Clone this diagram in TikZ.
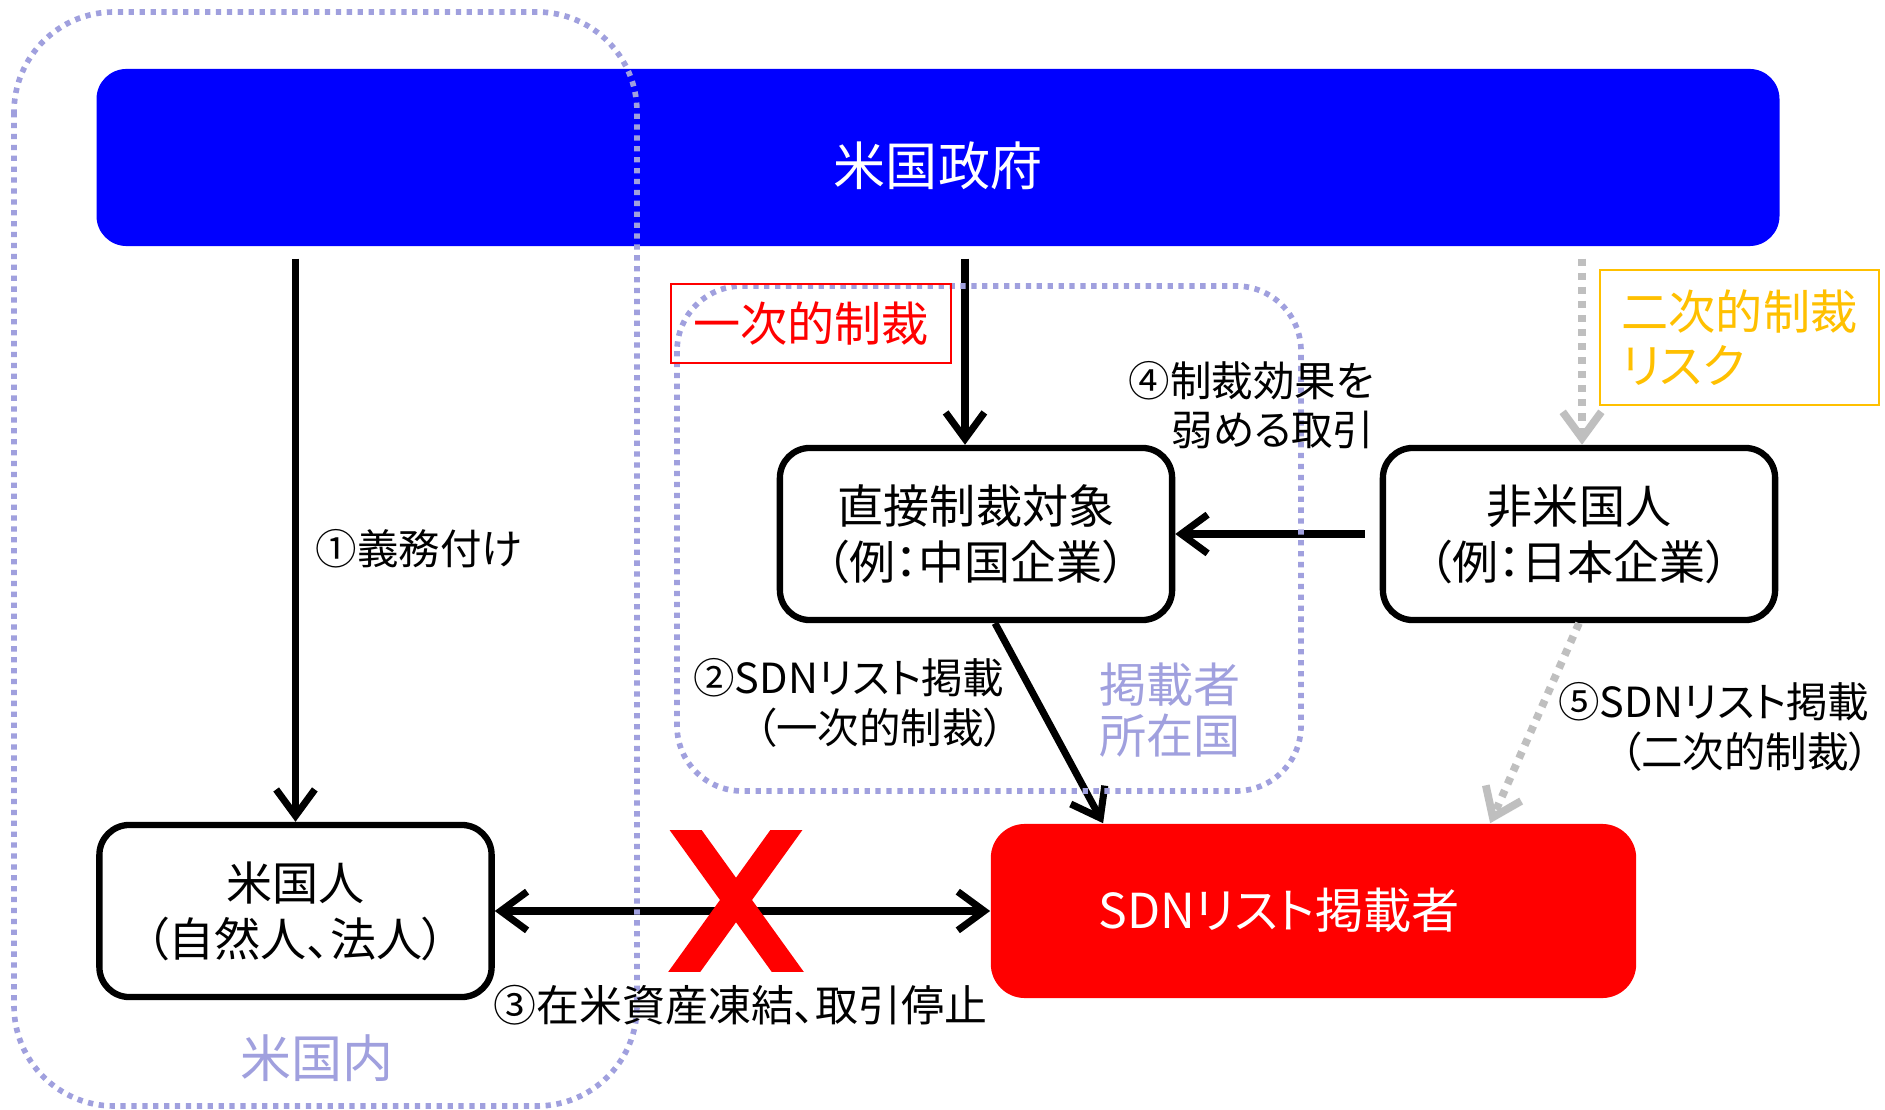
\documentclass[tikz,border=0pt]{standalone}
\usepackage{fontspec}
\setmainfont{Noto Sans CJK JP}[RawFeature=+palt]
\usetikzlibrary{arrows.meta,calc}
\definecolor{dotc}{RGB}{160,160,222}
\definecolor{graya}{RGB}{191,191,191}
\definecolor{orangea}{RGB}{255,192,0}
\newcommand\fs[2]{\fontsize{#1pt}{#2pt}\selectfont}
\begin{document}
\begin{tikzpicture}[x=0.01cm,y=-0.01cm,
  sbox/.style={draw=black, line width=1.8pt, fill=white, rounded corners=0.3cm, minimum width=3.92cm, minimum height=1.72cm, align=center, font=\fs{13.1}{15.9}, inner sep=0pt},
  arr/.style={line width=2pt, -{Straight Barb[length=7.5pt,width=11pt]}},
  garr/.style={draw=graya, line width=2.2pt, dash pattern=on 2pt off 2pt, -{Straight Barb[length=7.5pt,width=11pt]}},
  region/.style={draw=dotc, line width=1.6pt, dash pattern=on 1.5pt off 1.6pt},
  lbl/.style={font=\fs{11.8}{14}, align=right, inner sep=0pt}
]
\useasboundingbox (0,0) rectangle (1885,1110);
\fill[white] (0,0) rectangle (1885,1110);

% government
\node[fill=blue, rounded corners=0.3cm, minimum width=16.82cm, minimum height=1.77cm] (gov) at (938,157.5) {};
\node[text=white, font=\fs{14.8}{17}] (govt) at (938,166) {米国政府};

% boxes
\node[sbox] (direct) at (976,534) {直接制裁対象\\（例：中国企業）};
\node[sbox] (nonus) at (1579,534) {非米国人\\（例：日本企業）};
\node[sbox] (usp) at (295.5,911) {米国人\\（自然人、法人）};
\node[fill=red, rounded corners=0.34cm, minimum width=6.45cm, minimum height=1.74cm] (sdn) at (1313.5,911) {};
\node[text=white, font=\fs{13.7}{16}] (sdnt) at (1279,910) {SDNリスト掲載者};

% arrows
\draw[arr] ($(usp.north |- gov.south)+(0,12)$) -- (usp.north);
\draw[arr] ($(direct.north |- gov.south)+(-11,12)$) -- ($(direct.north)+(-11,0)$);
\draw[garr] ($(nonus.north |- gov.south)+(3,12)$) -- ($(nonus.north)+(3,0)$);
\draw[arr] ($(nonus.west)+(-15,0)$) -- (direct.east);
\draw[arr] ($(direct.south)+(19,0)$) -- ($(sdn.north west)+(113,0)$);
\draw[garr] (nonus.south) -- ($(sdn.north west)+(500,0)$);
\draw[line width=2pt, {Straight Barb[length=7.5pt,width=11pt]}-{Straight Barb[length=7.5pt,width=11pt]}] (usp.east) -- (sdn.west);

% red cross
\begin{scope}
\clip (600,830) rectangle (880,971);
\draw[red, line width=0.26cm] (678.4,820) -- (793.6,980) (793.6,820) -- (678.4,980);
\end{scope}

% regions
\draw[region, rounded corners=1cm] (14,12) rectangle (637,1106);
\draw[region, rounded corners=0.65cm] (677,286) rectangle (1301,791);

% tags
\node[draw=red, line width=0.7pt, minimum width=2.8cm, minimum height=0.79cm, text=red, font=\fs{13.4}{15}, inner sep=0pt] (prim) at (811,323.5) {一次的制裁};
\node[draw=orangea, line width=0.7pt, minimum width=2.79cm, minimum height=1.35cm, text=orangea, font=\fs{13.4}{15.4}, align=left, inner sep=0pt] (sec) at (1739.5,337.5) {二次的制裁\\リスク};

% labels
\node[lbl, anchor=west, align=left] (l1) at (315,549) {①義務付け};
\node[lbl, anchor=east] (l4) at (1375,405) {④制裁効果を\\弱める取引};
\node[lbl, anchor=east] (l2) at (1005,703) {②SDNリスト掲載\\（一次的制裁）};
\node[lbl, anchor=east] (l5) at (1870,727) {⑤SDNリスト掲載\\（二次的制裁）};
\node[lbl, anchor=west, align=left, font=\fs{12.2}{14}] (l3) at (493,1005) {③在米資産凍結、取引停止};
\node[text=dotc, font=\fs{13.4}{14.5}, align=center] (host) at (1170,710) {掲載者\\所在国};
\node[text=dotc, font=\fs{14.5}{16}] (usin) at (317,1058) {米国内};
\end{tikzpicture}
\end{document}
